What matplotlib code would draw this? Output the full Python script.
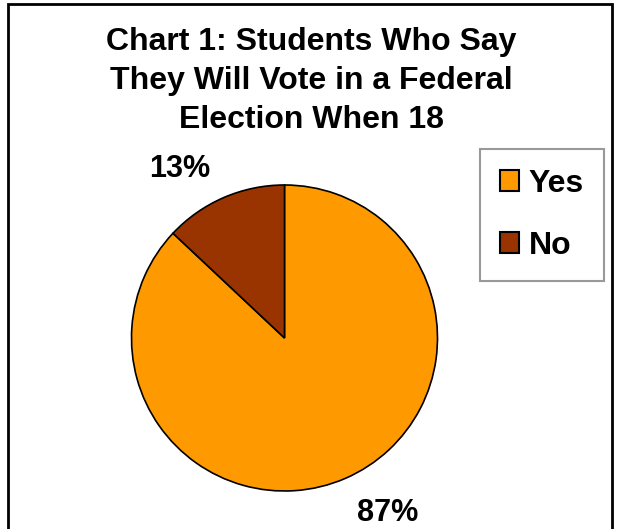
import matplotlib
matplotlib.use("Agg")
import matplotlib.pyplot as plt
from matplotlib.patches import Rectangle, Patch

plt.rcParams['font.family'] = ['Liberation Sans', 'DejaVu Sans']

title = "Chart 1: Students Who Say\nThey Will Vote in a Federal\nElection When 18"
categories = ["Yes", "No"]
values = [87, 13]
colors = ["#FF9900", "#993300"]

W, H = 620, 529
FS = 23
fig = plt.figure(figsize=(W / 100, H / 100), dpi=100)

# outer chart frame
fig.patches.append(Rectangle((8 / W, -0.05), (612 - 8) / W, 1.05 - 4 / H,
                             transform=fig.transFigure, fill=False,
                             edgecolor="black", linewidth=2))

fig.text(311.5 / W, 1 - 81 / H, title, ha="center", va="center",
         fontsize=FS, fontweight="bold", linespacing=1.38)

cx, cy, r = 284.5, 338, 153
ax = fig.add_axes([(cx - r) / W, (H - cy - r) / H, 2 * r / W, 2 * r / H])
wedges, _ = ax.pie(values, colors=colors, startangle=90, counterclock=False,
                   wedgeprops=dict(edgecolor="black", linewidth=1.2))
ax.set_xlim(-1, 1)
ax.set_ylim(-1, 1)
ax.set_aspect("equal")
ax.axis("off")

label_pos = {"No": ((180 - cx) / r, (cy - 169) / r),
             "Yes": ((387.5 - cx) / r, (cy - 513) / r)}
for cat, v in zip(categories, values):
    x, y = label_pos[cat]
    ax.text(x, y, f"{v}%", ha="center", va="center", fontsize=22,
            fontweight="bold", clip_on=False)

handles = [Patch(facecolor=c, edgecolor="black", linewidth=1.5) for c in colors]
leg = fig.legend(handles, categories, loc="upper left",
                 bbox_to_anchor=(480 / W, 1 - 149 / H),
                 bbox_transform=fig.transFigure,
                 prop=dict(size=FS, weight="bold"),
                 frameon=True, fancybox=False, handlelength=0.6,
                 handleheight=0.6, handletextpad=0.3, labelspacing=1.0,
                 borderpad=0.62, borderaxespad=0)
leg.get_frame().set_edgecolor("#808080")
leg.get_frame().set_linewidth(1.5)

fig.savefig("out.png", dpi=100)
